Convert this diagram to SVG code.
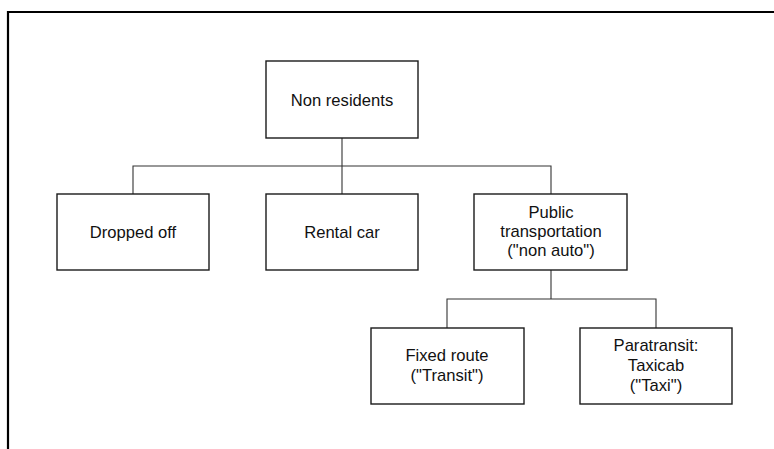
<svg xmlns="http://www.w3.org/2000/svg" width="774" height="449" viewBox="0 0 774 449">
<style>
.box{fill:#fff;stroke:#1a1a1a;stroke-width:1.4}
.t{font-family:"Liberation Sans",Arial,sans-serif;font-size:16.6px;fill:#111;text-anchor:middle}
.c{fill:none;stroke:#333;stroke-width:1.1}
</style>
<rect width="774" height="449" fill="#fff"/>
<path d="M8 449 V12 H774" fill="none" stroke="#000" stroke-width="2.2"/>
<g id="connectors">
<path class="c" d="M342 138 V166 M133 194 V166 H551 V194 M342 166 V194"/>
<path class="c" d="M551 270 V299 M447 328 V299 H656 V328"/>
</g>
<g id="n-nonres"><rect class="box" x="266" y="61" width="152" height="77"/><text class="t" x="342" y="106">Non residents</text></g>
<g id="n-dropped"><rect class="box" x="57" y="194" width="152" height="76"/><text class="t" x="133" y="238">Dropped off</text></g>
<g id="n-rental"><rect class="box" x="266" y="194" width="152" height="76"/><text class="t" x="342" y="238">Rental car</text></g>
<g id="n-public"><rect class="box" x="474" y="194" width="153" height="76"/><text class="t" x="551" y="218">Public</text><text class="t" x="551" y="237">transportation</text><text class="t" x="551" y="256">("non auto")</text></g>
<g id="n-fixed"><rect class="box" x="371" y="328" width="153" height="76"/><text class="t" x="447" y="361">Fixed route</text><text class="t" x="447" y="381">("Transit")</text></g>
<g id="n-para"><rect class="box" x="580" y="328" width="152" height="76"/><text class="t" x="656" y="351">Paratransit:</text><text class="t" x="656" y="371">Taxicab</text><text class="t" x="656" y="391">("Taxi")</text></g>
</svg>
